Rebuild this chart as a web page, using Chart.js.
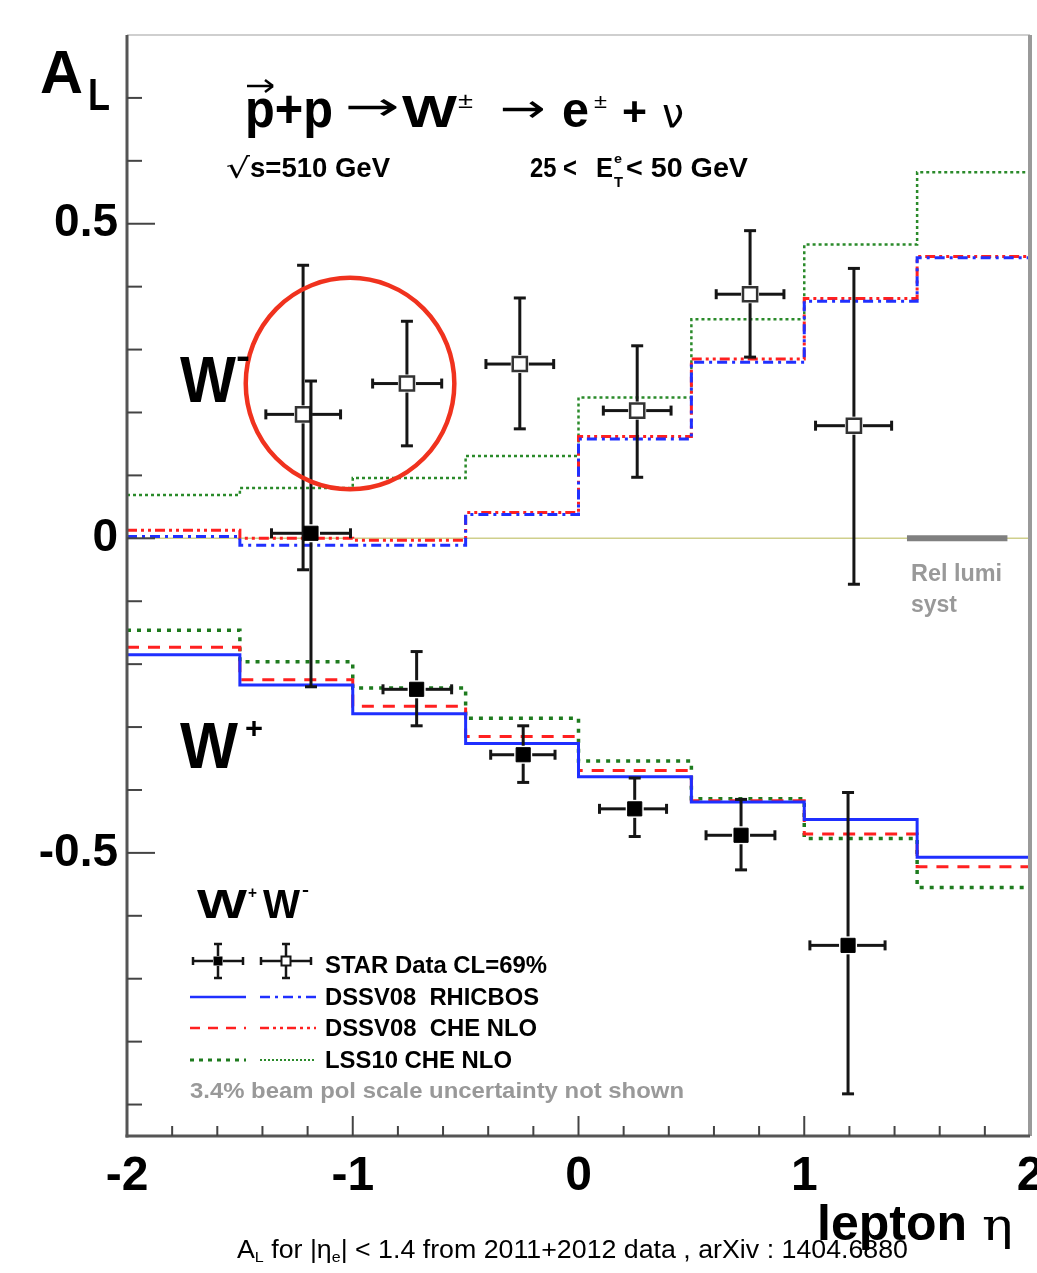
<!DOCTYPE html>
<html><head><meta charset="utf-8">
<script src="https://cdn.jsdelivr.net/npm/chart.js@4.4.1/dist/chart.umd.min.js"></script>
<style>html,body{margin:0;padding:0;background:#fff;}canvas{display:block;}</style>
</head><body>
<canvas id="c" width="1037" height="1273"></canvas>
<script>
// ---------------- data ----------------
const binEdges = [-2, -1.5, -1, -0.5, 0, 0.5, 1, 1.5, 2];
// W- theory (upper curves)
const wmRhicbos = [0.003, -0.011, -0.011, 0.038, 0.158, 0.280, 0.377, 0.446];
const wmDssvChe = [0.013, 0.000, -0.003, 0.041, 0.162, 0.285, 0.381, 0.448];
const wmLss10   = [0.069, 0.080, 0.096, 0.131, 0.224, 0.348, 0.467, 0.582];
// W+ theory (lower curves)
const wpRhicbos = [-0.185, -0.233, -0.279, -0.326, -0.379, -0.419, -0.447, -0.507];
const wpDssvChe = [-0.173, -0.225, -0.267, -0.315, -0.369, -0.417, -0.470, -0.522];
const wpLss10   = [-0.146, -0.196, -0.238, -0.286, -0.354, -0.414, -0.477, -0.555];
// STAR W- data (open squares)
const wmX   = [-1.22, -0.76, -0.26, 0.26, 0.76, 1.22];
const wmY   = [0.197, 0.246, 0.277, 0.203, 0.388, 0.179];
const wmYHi = [0.434, 0.345, 0.382, 0.306, 0.489, 0.429];
const wmYLo = [-0.050, 0.147, 0.174, 0.097, 0.288, -0.073];
const wmXLo = [-1.385, -0.912, -0.410, 0.110, 0.610, 1.050];
const wmXHi = [-1.054, -0.606, -0.110, 0.410, 0.910, 1.387];
// STAR W+ data (filled squares)
const wpX   = [-1.185, -0.717, -0.245, 0.249, 0.720, 1.194];
const wpY   = [0.008, -0.240, -0.344, -0.430, -0.472, -0.647];
const wpYHi = [0.250, -0.180, -0.298, -0.381, -0.415, -0.404];
const wpYLo = [-0.236, -0.298, -0.388, -0.474, -0.527, -0.883];
const wpXLo = [-1.360, -0.866, -0.389, 0.093, 0.565, 1.025];
const wpXHi = [-1.010, -0.562, -0.104, 0.390, 0.870, 1.358];
// zero line and relative luminosity systematic band
const zeroLineX = [-2, 2];
const relLumiX = [1.455, 1.9];
// ticks
const xTickVals = [-2, -1, 0, 1, 2];
const xTickLabels = ['-2', '-1', '0', '1', '2'];
const yTickVals = [-0.5, 0, 0.5];
const yTickLabels = ['-0.5', '0', '0.5'];

// ---------------- helpers ----------------
const FONT = '"Liberation Sans", Arial, Helvetica, sans-serif';
const stepPts = vals => binEdges.map((x, i) => ({x, y: vals[Math.min(i, vals.length - 1)]}));
const pts = (xs, ys) => xs.map((x, i) => ({x, y: ys[i]}));

function txt(ctx, s, x, y, size, o = {}) {
  ctx.save();
  ctx.font = `${o.weight || 'bold'} ${size}px ${o.family || FONT}`;
  ctx.fillStyle = o.color || '#000';
  ctx.textBaseline = o.baseline || 'alphabetic';
  ctx.textAlign = 'left';
  const w = ctx.measureText(s).width;
  ctx.translate(x, y);
  if (o.w) ctx.scale(o.w / w, 1);
  ctx.fillText(s, 0, 0);
  ctx.restore();
}
function seg(ctx, x1, y1, x2, y2) { ctx.beginPath(); ctx.moveTo(x1, y1); ctx.lineTo(x2, y2); ctx.stroke(); }

// ---------------- plugins ----------------
const errPlugin = {
  id: 'errbars',
  beforeDatasetDraw(chart, args) {
    const ds = chart.data.datasets[args.index];
    if (!ds.err) return;
    const xs = chart.scales.x, ys = chart.scales.y, ctx = chart.ctx;
    ctx.save();
    ctx.strokeStyle = '#151515'; ctx.lineWidth = 3; ctx.lineCap = 'butt';
    ds.data.forEach((p, i) => {
      const px = xs.getPixelForValue(p.x), py = ys.getPixelForValue(p.y);
      const yt = ys.getPixelForValue(ds.err.yHi[i]), yb = ys.getPixelForValue(ds.err.yLo[i]);
      const xl = xs.getPixelForValue(ds.err.xLo[i]), xr = xs.getPixelForValue(ds.err.xHi[i]);
      const g = 9;
      seg(ctx, px, py - g, px, yt); seg(ctx, px, py + g, px, yb);
      seg(ctx, px - g, py, xl, py); seg(ctx, px + g, py, xr, py);
      seg(ctx, px - 6, yt, px + 6, yt); seg(ctx, px - 6, yb, px + 6, yb);
      seg(ctx, xl, py - 5, xl, py + 5); seg(ctx, xr, py - 5, xr, py + 5);
    });
    ctx.restore();
  }
};

const framePlugin = {
  id: 'frame',
  afterDraw(chart) {
    const ctx = chart.ctx, a = chart.chartArea, xs = chart.scales.x, ys = chart.scales.y;
    ctx.save();
    // frame
    ctx.strokeStyle = '#cfcfcf'; ctx.lineWidth = 2; seg(ctx, a.left, a.top, a.right, a.top);
    ctx.strokeStyle = '#9a9a9a'; ctx.lineWidth = 4; seg(ctx, a.right, a.top, a.right, a.bottom);
    ctx.strokeStyle = '#555'; ctx.lineWidth = 3;
    seg(ctx, a.left, a.top, a.left, a.bottom + 1.5);
    seg(ctx, a.left - 1.5, a.bottom, a.right, a.bottom);
    // inner ticks
    ctx.lineWidth = 2; ctx.strokeStyle = '#444';
    for (let k = -9; k <= 7; k++) {
      const v = k / 10, py = ys.getPixelForValue(v);
      const major = (k % 5 === 0);
      seg(ctx, a.left, py, a.left + (major ? 28 : 15), py);
    }
    for (let k = -10; k <= 10; k++) {
      const v = k / 5, px = xs.getPixelForValue(v);
      const major = (k % 5 === 0);
      if (k === -10 || k === 10) continue;
      seg(ctx, px, a.bottom, px, a.bottom - (major ? 20 : 10));
    }
    // red circle annotation (data units)
    const cx = xs.getPixelForValue(-1.012), cy = ys.getPixelForValue(0.246);
    const rx = xs.getPixelForValue(-1.012 + 0.462) - cx, ry = cy - ys.getPixelForValue(0.246 + 0.168);
    ctx.strokeStyle = '#f0321e'; ctx.lineWidth = 4.5;
    ctx.beginPath(); ctx.ellipse(cx, cy, rx, ry, 0, 0, Math.PI * 2); ctx.stroke();
    ctx.restore();

    // ----- texts -----
    // A_L
    txt(ctx, 'A', 40, 93, 62, {w: 43});
    txt(ctx, 'L', 88, 110, 44, {w: 22});
    // title
    txt(ctx, 'p+p', 245, 127, 54, {w: 88});
    ctx.save(); ctx.strokeStyle = '#000'; ctx.lineWidth = 2.5;
    seg(ctx, 247, 86, 273, 86); seg(ctx, 273, 86, 265, 80); seg(ctx, 273, 86, 265, 92); ctx.restore();
    txt(ctx, '\u2192', 345, 110, 40, {weight: 'normal', family: '"DejaVu Sans", sans-serif', baseline: 'middle', w: 55});
    txt(ctx, 'W', 402, 127, 44, {w: 55});
    txt(ctx, '\u00B1', 458, 108, 22, {weight: 'normal', w: 15});
    txt(ctx, '\u2192', 500, 112, 40, {weight: 'normal', family: '"DejaVu Sans", sans-serif', baseline: 'middle', w: 46});
    txt(ctx, 'e', 562, 127, 50, {w: 27});
    txt(ctx, '\u00B1', 594, 108, 20, {weight: 'normal', w: 13});
    txt(ctx, '+', 622, 125, 40, {w: 25});
    txt(ctx, '\u03BD', 662, 127, 40, {weight: 'normal', family: '"DejaVu Sans", sans-serif', w: 22});
    // sub line
    txt(ctx, '\u221A', 226, 178, 28, {weight: 'normal', family: '"DejaVu Sans", sans-serif', w: 24});
    txt(ctx, 's=510 GeV', 250, 177, 27, {w: 140});
    txt(ctx, '25 <', 530, 177, 27, {w: 47});
    txt(ctx, 'E', 596, 177, 27, {w: 17});
    txt(ctx, 'e', 614, 163, 13, {w: 8});
    txt(ctx, 'T', 614, 187, 14, {w: 9});
    txt(ctx, '< 50 GeV', 626, 177, 27, {w: 122});
    // W labels
    txt(ctx, 'W', 180, 402, 64, {w: 56});
    txt(ctx, '-', 236, 368, 36, {w: 14});
    txt(ctx, 'W', 180, 768, 64, {w: 58});
    txt(ctx, '+', 245, 738, 30, {w: 18});
    // Rel lumi syst
    txt(ctx, 'Rel lumi', 911, 581, 23, {color: '#999', w: 91});
    txt(ctx, 'syst', 911, 612, 23, {color: '#999', w: 46});
    // legend heading
    txt(ctx, 'W', 197, 918, 40, {w: 50});
    txt(ctx, '+', 248, 898, 16, {w: 9});
    txt(ctx, 'W', 263, 918, 40, {w: 37});
    txt(ctx, '-', 302, 895, 16, {w: 7});
    // legend markers
    ctx.save(); ctx.strokeStyle = '#151515'; ctx.lineWidth = 2.5;
    const lm = (cx0, filled) => {
      const cy0 = 961;
      seg(ctx, cx0 - 25, cy0, cx0 - 5, cy0); seg(ctx, cx0 + 5, cy0, cx0 + 25, cy0);
      seg(ctx, cx0, cy0 - 17, cx0, cy0 - 5); seg(ctx, cx0, cy0 + 5, cx0, cy0 + 17);
      seg(ctx, cx0 - 25, cy0 - 4, cx0 - 25, cy0 + 4); seg(ctx, cx0 + 25, cy0 - 4, cx0 + 25, cy0 + 4);
      seg(ctx, cx0 - 4, cy0 - 17, cx0 + 4, cy0 - 17); seg(ctx, cx0 - 4, cy0 + 17, cx0 + 4, cy0 + 17);
      if (filled) { ctx.fillStyle = '#000'; ctx.fillRect(cx0 - 4.5, cy0 - 4.5, 9, 9); }
      else { ctx.lineWidth = 2; ctx.strokeRect(cx0 - 4.5, cy0 - 4.5, 9, 9); ctx.lineWidth = 2.5; }
    };
    lm(218, true); lm(286, false);
    const ll = (x1, x2, y, col, dash, lw) => { ctx.strokeStyle = col; ctx.setLineDash(dash); ctx.lineWidth = lw; seg(ctx, x1, y, x2, y); };
    ll(190, 246, 997, '#2030ff', [], 2.5);
    ll(260, 316, 997, '#2030ff', [10, 5, 3, 5], 2.5);
    ll(190, 246, 1028, '#ff2020', [10, 8], 2.5);
    ll(260, 316, 1028, '#ff2020', [9, 4, 3, 4, 3, 4], 2.5);
    ll(190, 246, 1060, '#1e7b1e', [4, 5], 3);
    ll(260, 316, 1060, '#2a8a2a', [2, 2], 2);
    ctx.restore();
    txt(ctx, 'STAR Data CL=69%', 325, 973, 23, {w: 222});
    txt(ctx, 'DSSV08  RHICBOS', 325, 1005, 23, {w: 214});
    txt(ctx, 'DSSV08  CHE NLO', 325, 1036, 23, {w: 212});
    txt(ctx, 'LSS10 CHE NLO', 325, 1068, 23, {w: 187});
    txt(ctx, '3.4% beam pol scale uncertainty not shown', 190, 1098, 22, {color: '#999', w: 494});
    // axis title
    txt(ctx, 'lepton', 817, 1240, 50, {w: 150});
    txt(ctx, '\u03B7', 982, 1240, 44, {weight: 'normal', family: '"DejaVu Serif", serif', w: 31});
    // caption
    ctx.save();
    const parts = [['A', 25, 0], ['L', 15, 4], [' for |\u03B7', 25, 0], ['e', 15, 4], ['| < 1.4 from 2011+2012 data , arXiv : 1404.6880', 25, 0]];
    let tot = 0;
    parts.forEach(p => { ctx.font = `${p[1]}px ${FONT}`; tot += ctx.measureText(p[0]).width; });
    ctx.translate(237, 1258); ctx.scale(671 / tot, 1);
    ctx.fillStyle = '#000'; ctx.textBaseline = 'alphabetic';
    let cxp = 0;
    parts.forEach(p => { ctx.font = `${p[1]}px ${FONT}`; ctx.fillText(p[0], cxp, p[2]); cxp += ctx.measureText(p[0]).width; });
    ctx.restore();
  }
};

// ---------------- chart ----------------
const lineDs = (label, vals, color, dash, width) => ({
  label, type: 'line', data: stepPts(vals), borderColor: color, borderDash: dash, borderWidth: width,
  stepped: true, pointRadius: 0, fill: false, showLine: true, borderCapStyle: 'butt'
});

new Chart(document.getElementById('c'), {
  type: 'scatter',
  data: {
    datasets: [
      {label: 'STAR W+', data: pts(wpX, wpY), pointStyle: 'rect', pointRadius: 10, backgroundColor: '#000', borderColor: '#000', borderWidth: 1,
       err: {yHi: wpYHi, yLo: wpYLo, xLo: wpXLo, xHi: wpXHi}},
      {label: 'STAR W-', data: pts(wmX, wmY), pointStyle: 'rect', pointRadius: 10, backgroundColor: '#fff', borderColor: '#333', borderWidth: 2.5,
       err: {yHi: wmYHi, yLo: wmYLo, xLo: wmXLo, xHi: wmXHi}},
      lineDs('DSSV08 RHICBOS W+', wpRhicbos, '#1f2fff', [], 3),
      lineDs('DSSV08 CHE NLO W+', wpDssvChe, '#ff2020', [12, 9], 3),
      lineDs('LSS10 CHE NLO W+', wpLss10, '#1e7b1e', [4, 6], 3.5),
      lineDs('DSSV08 RHICBOS W-', wmRhicbos, '#2030ff', [10, 5, 3, 5], 3),
      lineDs('DSSV08 CHE NLO W-', wmDssvChe, '#ff2020', [10, 4, 3, 4, 3, 4], 3),
      lineDs('LSS10 CHE NLO W-', wmLss10, '#2a8a2a', [3, 3], 2.5),
      {label: 'Rel lumi syst', type: 'line', data: relLumiX.map(x => ({x, y: 0})), borderColor: '#808080', borderWidth: 6, pointRadius: 0, showLine: true},
      {label: 'zero', type: 'line', data: zeroLineX.map(x => ({x, y: 0})), borderColor: '#cfcf8c', borderWidth: 1.5, pointRadius: 0, showLine: true}
    ]
  },
  options: {
    responsive: false, animation: false, devicePixelRatio: 1,
    layout: {autoPadding: false, padding: {left: 0, right: 7, top: 35, bottom: 77}},
    plugins: {legend: {display: false}, tooltip: {enabled: false}},
    scales: {
      x: {
        type: 'linear', min: -2, max: 2,
        grid: {display: false, drawTicks: false}, border: {display: false},
        ticks: {color: '#000', font: {family: FONT, size: 48, weight: 'bold'}, padding: 12, maxRotation: 0, autoSkip: false,
                callback: (v, i) => xTickLabels[i]},
        afterBuildTicks: s => { s.ticks = xTickVals.map(v => ({value: v})); },
        afterFit: s => { s.height = 60; s.paddingLeft = 0; s.paddingRight = 0; }
      },
      y: {
        type: 'linear', min: -0.95, max: 0.8,
        grid: {display: false, drawTicks: false}, border: {display: false},
        ticks: {color: '#000', font: {family: FONT, size: 46, weight: 'bold'}, padding: 9, autoSkip: false,
                callback: (v, i) => yTickLabels[i]},
        afterBuildTicks: s => { s.ticks = yTickVals.map(v => ({value: v})); },
        afterFit: s => { s.width = 127; s.paddingTop = 0; s.paddingBottom = 0; }
      }
    }
  },
  plugins: [errPlugin, framePlugin]
});
</script>
</body></html>
